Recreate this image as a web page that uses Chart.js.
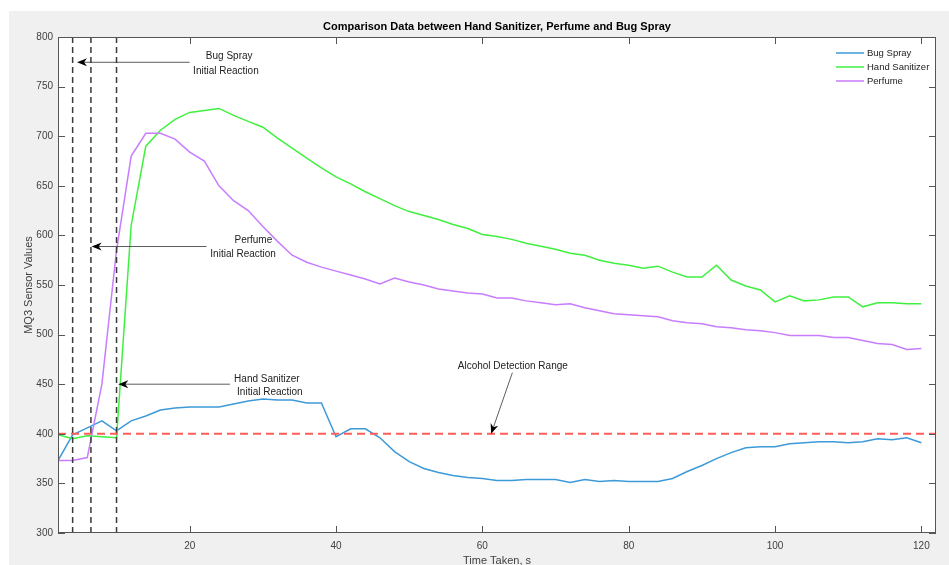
<!DOCTYPE html>
<html>
<head>
<meta charset="utf-8">
<script src="https://cdn.jsdelivr.net/npm/chart.js@4.4.1/dist/chart.umd.min.js"></script>
<style>
  html, body { margin: 0; padding: 0; background: #fff; }
  #wrap { width: 949px; height: 565px; }
</style>
</head>
<body>
<div id="wrap"><canvas id="sensorChart" width="949" height="565"></canvas></div>
<script>
// Time axis (s) and MQ3 readings
const timeTaken = [2, 4, 6, 8, 10, 12, 14, 16, 18, 20, 22, 24, 26, 28, 30, 32, 34, 36, 38, 40,
  42, 44, 46, 48, 50, 52, 54, 56, 58, 60, 62, 64, 66, 68, 70, 72, 74, 76, 78, 80,
  82, 84, 86, 88, 90, 92, 94, 96, 98, 100, 102, 104, 106, 108, 110, 112, 114, 116, 118, 120];

const bugSpray = [373, 399, 406, 413, 403, 413, 418, 424, 426, 427, 427, 427, 430, 433, 435, 434, 434, 431, 431, 397,
  405, 405, 396, 382, 372, 365, 361, 358, 356, 355, 353, 353, 354, 354, 354, 351, 354, 352, 353, 352,
  352, 352, 355, 362, 368, 375, 381, 386, 387, 387, 390, 391, 392, 392, 391, 392, 395, 394, 396, 391];

const handSanitizer = [399, 395, 398, 397, 396, 610, 690, 706, 717, 724, 726, 728, 721, 715, 709, 698, 688, 678, 668, 659,
  652, 644, 637, 630, 624, 620, 616, 611, 607, 601, 599, 596, 592, 589, 586, 582, 580, 575, 572, 570,
  567, 569, 563, 558, 558, 570, 555, 549, 545, 533, 539, 534, 535, 538, 538, 528, 532, 532, 531, 531];

const perfume = [373, 373, 376, 450, 585, 680, 703, 703, 697, 684, 675, 650, 635, 625, 609, 594, 580, 573, 568, 564,
  560, 556, 551, 557, 553, 550, 546, 544, 542, 541, 537, 537, 534, 532, 530, 531, 527, 524, 521, 520,
  519, 518, 514, 512, 511, 508, 507, 505, 504, 502, 499, 499, 499, 497, 497, 494, 491, 490, 485, 486];

const seriesNames = ['Bug Spray', 'Hand Sanitizer', 'Perfume'];
const seriesColors = ['#3d9ad8', '#3ff03f', '#c87dff'];

const xTicks = [20, 40, 60, 80, 100, 120];
const yTicks = [300, 350, 400, 450, 500, 550, 600, 650, 700, 750, 800];
const xRange = [2, 122];
const yRange = [300, 800];

// Initial reaction markers and detection threshold
const reactionTimes = [4, 6.5, 10];
const detectionLevel = 400;

// Text arrows: [fromX, fromY, toX, toY] in data units
const arrowLines = [
  [20, 774.5, 4.6, 774.5],
  [22.3, 588.8, 6.6, 588.8],
  [25.5, 450, 10.24, 450],
  [64.1, 461.6, 61.2, 400]
];
// Arrow labels: text, x, y in data units
const arrowTexts = [
  ['Bug Spray', 25.4, 780.8],
  ['Initial Reaction', 24.95, 765.7],
  ['Perfume', 28.7, 595.4],
  ['Initial Reaction', 27.3, 581.3],
  ['Hand Sanitizer', 30.55, 455.2],
  ['Initial Reaction', 30.96, 442.1],
  ['Alcohol Detection Range', 64.16, 468.3]
];

const FONT = '"Liberation Sans", Arial, Helvetica, sans-serif';
const AXIS = '#555555';
const TEXT = '#404040';

function toPoints(values) {
  return values.map((v, i) => ({ x: timeTaken[i], y: v }));
}

const datasets = [bugSpray, handSanitizer, perfume].map((vals, i) => ({
  label: seriesNames[i],
  data: toPoints(vals),
  borderColor: seriesColors[i],
  borderWidth: 1.5,
  pointRadius: 0,
  tension: 0,
  order: 3 - i
}));

datasets.push({
  label: 'threshold',
  data: [{ x: xRange[0], y: detectionLevel }, { x: xRange[1], y: detectionLevel }],
  borderColor: '#ff5c5c',
  borderWidth: 2,
  borderDash: [8, 5],
  pointRadius: 0,
  order: 0
});

reactionTimes.forEach(t => {
  datasets.push({
    label: 'reaction',
    data: [{ x: t, y: yRange[0] }, { x: t, y: yRange[1] }],
    borderColor: '#3a3a3a',
    borderWidth: 1.5,
    borderDash: [6, 4],
    pointRadius: 0,
    order: 0
  });
});

function drawArrow(ctx, x1, y1, x2, y2) {
  const ang = Math.atan2(y2 - y1, x2 - x1);
  const len = 10, half = 4, notch = 3;
  ctx.strokeStyle = '#333';
  ctx.lineWidth = 0.8;
  ctx.beginPath();
  ctx.moveTo(x1, y1);
  ctx.lineTo(x2 - Math.cos(ang) * notch, y2 - Math.sin(ang) * notch);
  ctx.stroke();
  const bx = x2 - Math.cos(ang) * len, by = y2 - Math.sin(ang) * len;
  const nx = x2 - Math.cos(ang) * (len - notch), ny = y2 - Math.sin(ang) * (len - notch);
  ctx.fillStyle = '#000';
  ctx.beginPath();
  ctx.moveTo(x2, y2);
  ctx.lineTo(bx + Math.sin(ang) * half, by - Math.cos(ang) * half);
  ctx.lineTo(nx, ny);
  ctx.lineTo(bx - Math.sin(ang) * half, by + Math.cos(ang) * half);
  ctx.closePath();
  ctx.fill();
}

const figurePlugin = {
  id: 'figure',
  beforeDraw(chart) {
    const { ctx, chartArea: a } = chart;
    ctx.save();
    ctx.fillStyle = '#f0f0f0';
    ctx.fillRect(9, 11, chart.width - 9, chart.height - 11);
    ctx.fillStyle = '#ffffff';
    ctx.fillRect(a.left, a.top, a.right - a.left, a.bottom - a.top);
    ctx.restore();
  },
  afterDraw(chart) {
    const { ctx, chartArea: a } = chart;
    const sx = chart.scales.x, sy = chart.scales.y;
    ctx.save();

    // box and inward ticks
    ctx.strokeStyle = AXIS;
    ctx.lineWidth = 1;
    ctx.strokeRect(a.left + 0.5, a.top + 0.5, a.right - a.left - 1, a.bottom - a.top - 1);
    const tl = 7;
    ctx.beginPath();
    xTicks.forEach(v => {
      const x = Math.round(sx.getPixelForValue(v)) + 0.5;
      ctx.moveTo(x, a.bottom); ctx.lineTo(x, a.bottom - tl);
      ctx.moveTo(x, a.top); ctx.lineTo(x, a.top + tl);
    });
    yTicks.forEach(v => {
      const y = Math.round(sy.getPixelForValue(v)) + 0.5;
      ctx.moveTo(a.left, y); ctx.lineTo(a.left + tl, y);
      ctx.moveTo(a.right, y); ctx.lineTo(a.right - tl, y);
    });
    ctx.stroke();

    // title
    ctx.fillStyle = '#000';
    ctx.font = 'bold 11px ' + FONT;
    ctx.textAlign = 'center';
    ctx.textBaseline = 'middle';
    ctx.fillText('Comparison Data between Hand Sanitizer, Perfume and Bug Spray', (a.left + a.right) / 2, 27);

    // axis titles
    ctx.fillStyle = TEXT;
    ctx.font = '11px ' + FONT;
    ctx.fillText('Time Taken, s', (a.left + a.right) / 2, 561);
    ctx.save();
    ctx.translate(29, (a.top + a.bottom) / 2);
    ctx.rotate(-Math.PI / 2);
    ctx.fillText('MQ3 Sensor Values', 0, 0);
    ctx.restore();

    // text arrows
    arrowLines.forEach(([x1, y1, x2, y2]) => {
      drawArrow(ctx, sx.getPixelForValue(x1), sy.getPixelForValue(y1),
        sx.getPixelForValue(x2), sy.getPixelForValue(y2));
    });
    ctx.fillStyle = '#222';
    ctx.font = '10px ' + FONT;
    arrowTexts.forEach(([t, x, y]) => {
      ctx.fillText(t, sx.getPixelForValue(x), sy.getPixelForValue(y));
    });

    // legend
    ctx.font = '9.5px ' + FONT;
    ctx.textAlign = 'left';
    seriesNames.forEach((name, i) => {
      const y = a.top + 16 + i * 14;
      ctx.strokeStyle = seriesColors[i];
      ctx.lineWidth = 1.5;
      ctx.beginPath();
      ctx.moveTo(a.right - 100, y); ctx.lineTo(a.right - 72, y);
      ctx.stroke();
      ctx.fillStyle = '#222';
      ctx.fillText(name, a.right - 69, y);
    });
    ctx.restore();
  }
};

const ctx = document.getElementById('sensorChart').getContext('2d');
const sensorChart = new Chart(ctx, {
  type: 'line',
  data: { datasets: datasets },
  plugins: [figurePlugin],
  options: {
    responsive: false,
    devicePixelRatio: 1,
    animation: false,
    layout: { padding: { left: 0, top: 37, right: 13, bottom: 0 } },
    plugins: {
      legend: { display: false },
      tooltip: { enabled: false },
      title: { display: false }
    },
    scales: {
      x: {
        type: 'linear',
        min: xRange[0],
        max: xRange[1],
        grid: { display: false, tickLength: 0 },
        border: { display: false },
        afterBuildTicks: scale => { scale.ticks = xTicks.map(v => ({ value: v })); },
        afterFit: scale => { scale.height = 32; },
        ticks: { color: TEXT, font: { family: FONT, size: 10 }, padding: 7, maxRotation: 0 }
      },
      y: {
        min: yRange[0],
        max: yRange[1],
        grid: { display: false, tickLength: 0 },
        border: { display: false },
        afterBuildTicks: scale => { scale.ticks = yTicks.map(v => ({ value: v })); },
        afterFit: scale => { scale.width = 58; },
        ticks: { color: TEXT, font: { family: FONT, size: 10 }, padding: 5 }
      }
    }
  }
});
</script>
</body>
</html>
